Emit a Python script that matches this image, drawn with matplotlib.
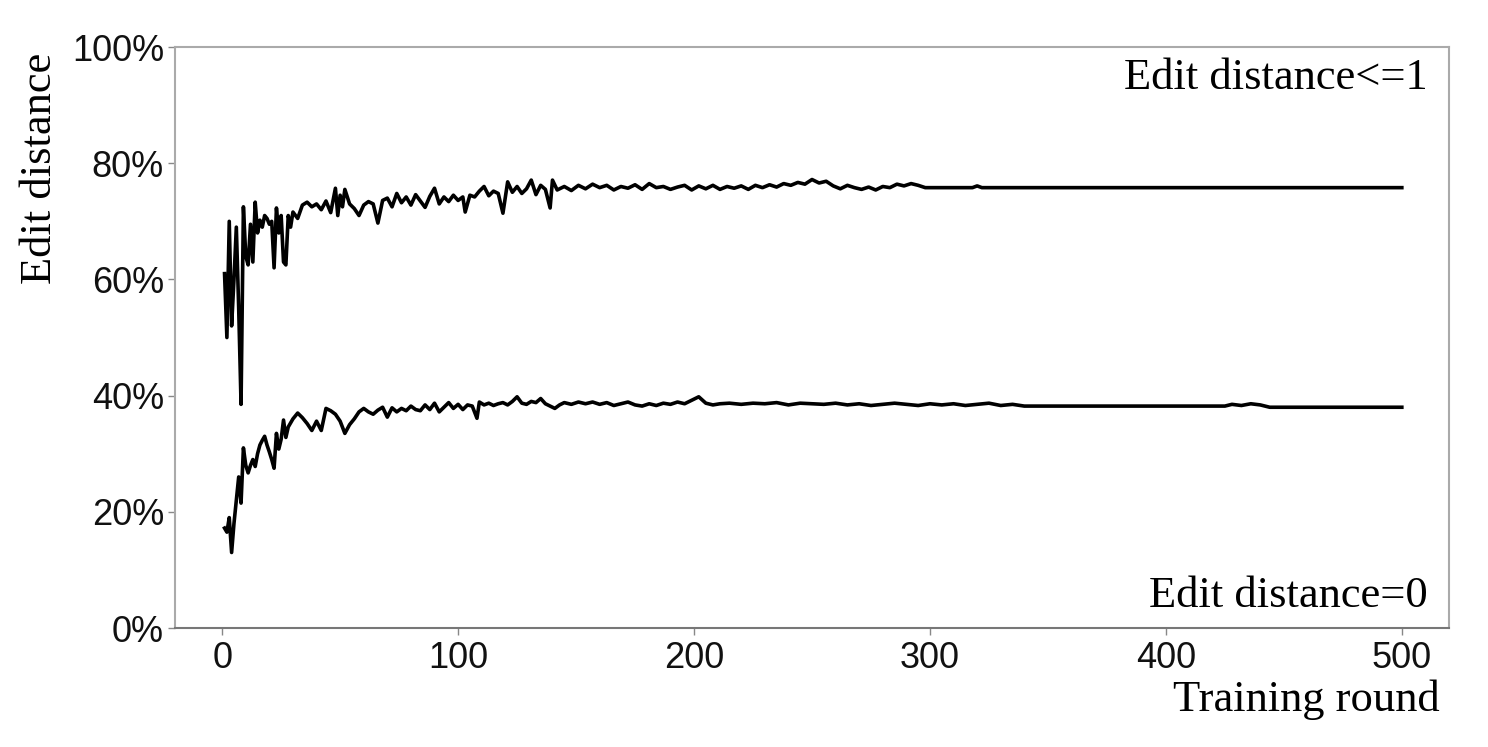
import matplotlib.pyplot as plt
from matplotlib.ticker import PercentFormatter

# edit distance <= 1 (percent)
rounds_up = [1, 2, 3, 4, 5, 6, 7, 8, 9, 10, 11, 12, 13, 14, 15, 16, 17, 18, 19, 20,
             21, 22, 23, 24, 25, 26, 27, 28, 29, 30, 32, 34, 36, 38, 40, 42, 44, 46, 48, 49,
             50, 51, 52, 54, 56, 58, 60, 62, 64, 66, 68, 70, 72, 74, 76, 78, 80, 82, 84, 86,
             88, 90, 92, 94, 96, 98, 100, 102, 103, 105, 107, 109, 111, 113, 115, 117, 119, 121, 123, 125,
             127, 129, 131, 133, 135, 137, 139, 140, 142, 145, 148, 151, 154, 157, 160, 163, 166, 169, 172, 175,
             178, 181, 184, 187, 190, 193, 196, 199, 202, 205, 208, 211, 214, 217, 220, 223, 226, 229, 232, 235,
             238, 241, 244, 247, 250, 253, 256, 259, 262, 265, 268, 271, 274, 277, 280, 283, 286, 289, 292, 295,
             298, 300, 318, 320, 322, 500]
acc_up = [61, 50, 70, 52, 60, 69, 55, 38.5, 72.5, 64, 62.5, 69.5, 63, 73.3, 68, 70.2, 69, 71, 70.5, 69.5,
          70, 62, 72.3, 68, 71, 63, 62.5, 71, 69, 71.6, 70.5, 72.8, 73.3, 72.5, 73.0, 72.0, 73.5, 71.5, 75.7, 71,
          74.5, 72.5, 75.5, 73, 72.2, 71, 72.8, 73.4, 73, 69.7, 73.6, 74, 72.5, 74.8, 73.2, 74.2, 72.8, 74.6, 73.5, 72.4,
          74.3, 75.7, 73, 74.2, 73.4, 74.5, 73.6, 74.2, 71.6, 74.5, 74.2, 75.2, 76.0, 74.4, 75.2, 74.8, 71.4, 76.8, 75, 76,
          74.8, 75.6, 77.1, 74.6, 76.2, 75.5, 72.3, 77.1, 75.4, 76, 75.3, 76.2, 75.6, 76.4, 75.8, 76.2, 75.4, 76, 75.7, 76.3,
          75.5, 76.5, 75.8, 76, 75.5, 75.9, 76.2, 75.4, 76.1, 75.6, 76.2, 75.5, 76, 75.7, 76.1, 75.5, 76.2, 75.8, 76.3, 75.9,
          76.5, 76.2, 76.7, 76.4, 77.2, 76.6, 76.9, 76.1, 75.6, 76.2, 75.8, 75.5, 75.9, 75.4, 76.0, 75.8, 76.4, 76.1, 76.5, 76.2,
          75.8, 75.8, 75.8, 76.1, 75.8, 75.8]

# edit distance = 0 (percent)
rounds_low = [1, 2, 3, 4, 5, 6, 7, 8, 9, 10, 11, 12, 13, 14, 15, 16, 17, 18, 19, 20,
              21, 22, 23, 24, 25, 26, 27, 28, 30, 32, 34, 36, 38, 40, 42, 44, 46, 48, 50, 52,
              54, 56, 58, 60, 62, 64, 66, 68, 70, 72, 74, 76, 78, 80, 82, 84, 86, 88, 90, 92,
              94, 96, 98, 100, 102, 104, 106, 108, 109, 111, 113, 115, 117, 119, 121, 123, 125, 127, 129, 131,
              133, 135, 137, 139, 141, 143, 145, 148, 151, 154, 157, 160, 163, 166, 169, 172, 175, 178, 181, 184,
              187, 190, 193, 196, 199, 202, 205, 208, 211, 215, 220, 225, 230, 235, 240, 245, 250, 255, 260, 265,
              270, 275, 280, 285, 290, 295, 300, 305, 310, 315, 320, 325, 330, 335, 340, 342, 425, 428, 432, 436,
              440, 444, 500]
acc_low = [17.2, 16.5, 19, 13, 18, 22, 26, 21.5, 31, 28, 26.7, 28, 29, 27.8, 30, 31.5, 32.3, 33, 31.5, 30.3,
           29, 27.5, 33.5, 30.8, 32.5, 35.8, 32.8, 34.6, 36, 37, 36.2, 35.2, 34, 35.6, 34, 37.8, 37.4, 36.8, 35.6, 33.5,
           35, 36, 37.2, 37.8, 37.2, 36.8, 37.5, 38, 36.3, 37.9, 37.2, 37.8, 37.4, 38.2, 37.6, 37.4, 38.4, 37.6, 38.7, 37.2,
           38.0, 38.8, 37.8, 38.5, 37.6, 38.4, 38.2, 36.1, 38.9, 38.4, 38.7, 38.3, 38.6, 38.8, 38.4, 39.0, 39.8, 38.7, 38.5, 39.0,
           38.8, 39.5, 38.6, 38.2, 37.8, 38.4, 38.8, 38.5, 38.9, 38.6, 38.9, 38.5, 38.8, 38.3, 38.6, 38.9, 38.4, 38.2, 38.6, 38.3,
           38.7, 38.5, 38.9, 38.6, 39.2, 39.8, 38.7, 38.4, 38.6, 38.7, 38.5, 38.7, 38.6, 38.8, 38.4, 38.7, 38.6, 38.5, 38.7, 38.4,
           38.6, 38.3, 38.5, 38.7, 38.5, 38.3, 38.6, 38.4, 38.6, 38.3, 38.5, 38.7, 38.3, 38.5, 38.2, 38.2, 38.2, 38.5, 38.3, 38.6,
           38.4, 38.0, 38.0]

xticks = [0, 100, 200, 300, 400, 500]
yticks = [0, 20, 40, 60, 80, 100]

fig = plt.figure(figsize=(14.88, 7.47), dpi=100)
ax = fig.add_axes([0.1176, 0.1593, 0.8562, 0.7777])

ax.plot(rounds_up, acc_up, color="black", lw=2.6)
ax.plot(rounds_low, acc_low, color="black", lw=2.6)

ax.set_xlim(-20, 520)
ax.set_ylim(0, 100)
ax.set_xticks(xticks)
ax.set_yticks(yticks)
ax.yaxis.set_major_formatter(PercentFormatter(decimals=0))

for lab in ax.get_xticklabels() + ax.get_yticklabels():
    lab.set_fontfamily("Liberation Sans")
    lab.set_fontsize(26)
    lab.set_color("#111111")
ax.tick_params(axis="both", length=5, width=1, color="#888888")
ax.tick_params(axis="y", pad=3)
ax.tick_params(axis="x", pad=4)

for side in ["left", "top", "right"]:
    ax.spines[side].set_color("#aaaaaa")
    ax.spines[side].set_linewidth(1.5)
ax.spines["bottom"].set_color("#777777")
ax.spines["bottom"].set_linewidth(1.5)

serif = dict(fontfamily="Liberation Serif", fontsize=32, color="black")
fig.text(40 / 1488, 1 - 168 / 747, "Edit distance", rotation=90, ha="center", va="center", **serif)
fig.text(1440 / 1488, 1 - 700 / 747, "Training round", ha="right", va="center", **serif)
fig.text(1428 / 1488, 1 - 78 / 747, "Edit distance<=1", ha="right", va="center", **serif)
fig.text(1428 / 1488, 1 - 596 / 747, "Edit distance=0", ha="right", va="center", **serif)

plt.savefig("out.png", dpi=100)
